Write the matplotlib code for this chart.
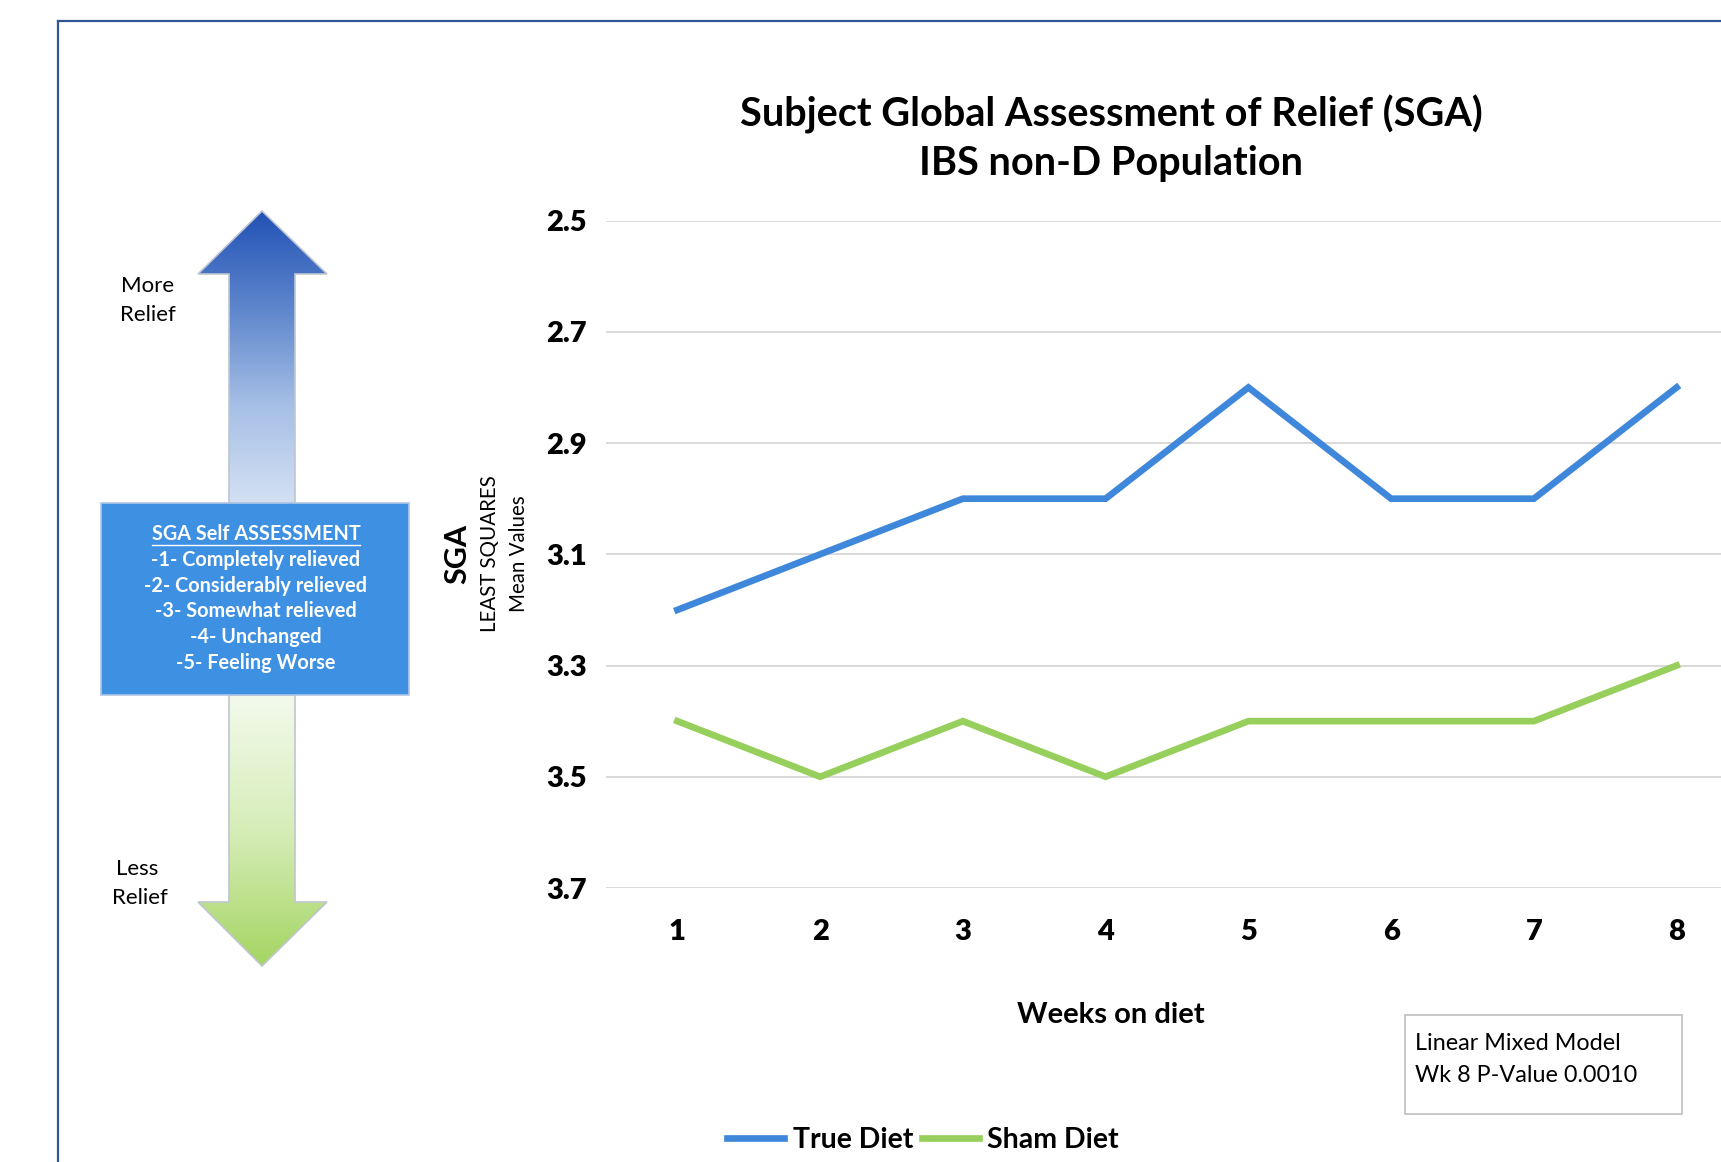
import numpy as np
import matplotlib
matplotlib.use("Agg")
import matplotlib.pyplot as plt
from matplotlib.colors import LinearSegmentedColormap
from matplotlib.patches import Polygon, Rectangle
from matplotlib.lines import Line2D

plt.rcParams['font.family'] = ['Lato', 'DejaVu Sans']

# SGA least-squares means by week (lower = more relief)
weeks = [1, 2, 3, 4, 5, 6, 7, 8]
true_diet = [3.2, 3.1, 3.0, 3.0, 2.8, 3.0, 3.0, 2.8]
sham_diet = [3.4, 3.5, 3.4, 3.5, 3.4, 3.4, 3.4, 3.3]
y_ticks = [2.5, 2.7, 2.9, 3.1, 3.3, 3.5, 3.7]
scale_lines = ["SGA Self ASSESSMENT",
               "-1- Completely relieved",
               "-2- Considerably relieved",
               "-3- Somewhat relieved",
               "-4- Unchanged",
               "-5- Feeling Worse"]

W, H = 1721, 1162
fig = plt.figure(figsize=(W / 100, H / 100), dpi=100)

# background layer in pixel coordinates for the frame and the arrow panel
bg = fig.add_axes([0, 0, 1, 1])
bg.axis('off')

# frame
bg.add_line(Line2D([58, W], [21, 21], color='#2F5597', lw=1.6))
bg.add_line(Line2D([58, 58], [21, H], color='#2F5597', lw=1.6))

# gradient arrows
up_cmap = LinearSegmentedColormap.from_list('up', ['#2252B6', '#5E86CC', '#A6BFE6', '#D3E0F3'])
dn_cmap = LinearSegmentedColormap.from_list('dn', ['#F3FAEC', '#D6EDB8', '#A4D562'])
grad = np.linspace(0, 1, 256).reshape(-1, 1)

up_pts = [(262, 211), (327, 274), (295, 274), (295, 503), (229, 503), (229, 274), (198, 274)]
dn_pts = [(229, 695), (295, 695), (295, 902), (327, 902), (262, 966), (198, 902), (229, 902)]

for pts, cmap, top, bot in [(up_pts, up_cmap, 211, 503), (dn_pts, dn_cmap, 695, 966)]:
    poly = Polygon(pts, closed=True, facecolor='none', edgecolor='#BFC6CF', lw=1.2, zorder=3)
    bg.add_patch(poly)
    im = bg.imshow(grad, cmap=cmap, extent=(198, 327, bot, top), origin='upper',
                   aspect='auto', zorder=2)
    im.set_clip_path(poly)

bg.text(148, 286, "More", ha='center', va='center', fontsize=16)
bg.text(148, 315, "Relief", ha='center', va='center', fontsize=16)
bg.text(137, 869, "Less", ha='center', va='center', fontsize=16)
bg.text(140, 898, "Relief", ha='center', va='center', fontsize=16)

# scale legend box
bg.add_patch(Rectangle((101, 503), 308, 192, facecolor='#3E90E2', edgecolor='#AFC6E4', lw=1.2, zorder=4))
line_y = [534, 560, 586, 611, 637, 663]
head = None
for s, y in zip(scale_lines, line_y):
    t = bg.text(256, y, s, ha='center', va='center', color='white',
                fontsize=14.3, fontweight='bold', zorder=5)
    if head is None:
        head = t

bg.set_xlim(0, W)
bg.set_ylim(H, 0)

# main chart
ax = fig.add_axes([606 / W, 1 - 888 / H, (1748 - 606) / W, (888 - 220.6) / H])
ax.set_facecolor('none')
ax.plot(weeks, true_diet, color='#3F87DA', lw=4.8, solid_joinstyle='miter', label='True Diet')
ax.plot(weeks, sham_diet, color='#97CF5C', lw=4.8, solid_joinstyle='miter', label='Sham Diet')
ax.set_xlim(0.5, 8.5)
ax.set_ylim(3.7, 2.5)
ax.set_yticks(y_ticks)
ax.set_yticklabels([f"{v:.1f}" for v in y_ticks])
ax.set_xticks(weeks)
ax.grid(axis='y', color='#D9D9D9', lw=1.4)
ax.set_axisbelow(True)
for s in ax.spines.values():
    s.set_visible(False)
ax.tick_params(length=0, labelsize=21)
ax.tick_params(axis='y', pad=14)
ax.tick_params(axis='x', pad=22)
for lab in ax.get_xticklabels() + ax.get_yticklabels():
    lab.set_fontweight('heavy')

fig.text(1111 / W, 1 - 114 / H, "Subject Global Assessment of Relief (SGA)",
         ha='center', va='center', fontsize=28.5, fontweight='bold')
fig.text(1111 / W, 1 - 164 / H, "IBS non-D Population",
         ha='center', va='center', fontsize=28.5, fontweight='bold')

fig.text(1111 / W, 1 - 1015 / H, "Weeks on diet", ha='center', va='center',
         fontsize=21, fontweight='bold')

fig.text(457 / W, 1 - 554 / H, "SGA", rotation=90, ha='center', va='center',
         fontsize=22, fontweight='bold')
fig.text(490 / W, 1 - 554 / H, "LEAST SQUARES", rotation=90, ha='center', va='center', fontsize=14.8)
fig.text(519 / W, 1 - 554 / H, "Mean Values", rotation=90, ha='center', va='center', fontsize=14.8)

# statistics note
bg.add_patch(Rectangle((1405, 1015), 277, 99, facecolor='white', edgecolor='#BFBFBF', lw=1.2, zorder=4))
bg.text(1415, 1043, "Linear Mixed Model", ha='left', va='center', fontsize=16.8, zorder=5)
bg.text(1415, 1076, "Wk 8 P-Value 0.0010", ha='left', va='center', fontsize=16.8, zorder=5)

fig.legend(loc='center', bbox_to_anchor=(923 / W, 1 - 1140 / H), ncol=2, frameon=False,
           prop={'size': 20.5, 'weight': 'bold'}, handlelength=2.0, columnspacing=0.3,
           handletextpad=0.3)

# underline the heading of the scale box
fig.canvas.draw()
bb = head.get_window_extent().transformed(bg.transData.inverted())
bg.add_line(Line2D([bb.x0, bb.x1], [bb.y0 + 1, bb.y0 + 1], color='white', lw=1, zorder=5))

fig.savefig("out.png", dpi=100, facecolor='white')
